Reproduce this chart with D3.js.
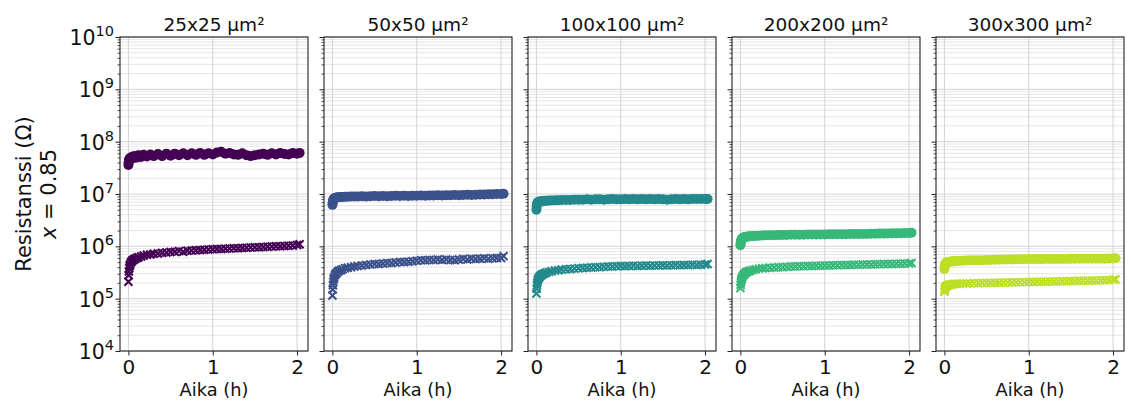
<!DOCTYPE html>
<html>
<head>
<meta charset="utf-8">
<script src="https://cdn.jsdelivr.net/npm/d3@7"></script>
<style>
  html, body { margin: 0; padding: 0; background: #fff; }
  svg { display: block; font-family: "DejaVu Sans", sans-serif; }
</style>
</head>
<body>
<svg id="chart" width="1131" height="403"></svg>
<script>
// Measurement time (hours), shared by every series
const hours = [0, 0.003, 0.006, 0.01, 0.015, 0.02, 0.03, 0.04, 0.05, 0.065,
  0.08, 0.1, 0.12, 0.15, 0.18, 0.22, 0.26, 0.3, 0.35, 0.4,
  0.45, 0.5, 0.55, 0.6, 0.65, 0.7, 0.75, 0.8, 0.85, 0.9,
  0.95, 1.0, 1.05, 1.1, 1.15, 1.2, 1.25, 1.3, 1.35, 1.4,
  1.45, 1.5, 1.55, 1.6, 1.65, 1.7, 1.75, 1.8, 1.85, 1.9,
  1.95, 2.0, 2.03];

// Resistance (Ω), upper (circle) and lower (cross) states per device size
const upper25 = [3.6e7, 4.0e7, 4.3e7, 4.6e7, 4.8e7, 4.6e7, 5.0e7, 4.8e7, 5.2e7, 4.9e7,
  5.3e7, 5.0e7, 5.5e7, 5.1e7, 5.6e7, 5.2e7, 5.7e7, 5.3e7, 5.8e7, 5.3e7,
  5.9e7, 5.4e7, 5.9e7, 5.5e7, 6.0e7, 5.5e7, 6.0e7, 5.6e7, 6.1e7, 5.6e7,
  6.0e7, 5.7e7, 6.2e7, 6.4e7, 5.9e7, 6.1e7, 5.7e7, 5.6e7, 6.0e7, 5.5e7,
  5.3e7, 5.5e7, 5.7e7, 5.9e7, 5.6e7, 6.0e7, 5.7e7, 6.1e7, 5.8e7, 5.7e7,
  6.1e7, 5.9e7, 6.1e7];
const lower25 = [2.1e5, 2.8e5, 3.3e5, 3.8e5, 4.2e5, 4.5e5, 4.9e5, 5.2e5, 5.4e5, 5.6e5,
  5.8e5, 6.0e5, 6.2e5, 6.4e5, 6.7e5, 6.9e5, 7.0e5, 7.2e5, 7.3e5, 7.5e5,
  7.6e5, 7.8e5, 7.9e5, 8.1e5, 7.9e5, 8.2e5, 8.3e5, 8.4e5, 8.5e5, 8.6e5,
  8.7e5, 8.8e5, 8.9e5, 8.9e5, 9.0e5, 9.1e5, 9.2e5, 9.2e5, 9.3e5, 9.4e5,
  9.5e5, 9.6e5, 9.6e5, 9.7e5, 9.8e5, 9.9e5, 1.0e6, 1.0e6, 1.01e6, 1.03e6,
  1.04e6, 1.06e6, 1.1e6];

const upper50 = [6.2e6, 6.8e6, 7.3e6, 7.7e6, 8.0e6, 8.2e6, 8.4e6, 8.5e6, 8.6e6, 8.7e6,
  8.7e6, 8.8e6, 8.8e6, 8.9e6, 8.9e6, 9.0e6, 9.0e6, 9.0e6, 9.1e6, 9.0e6,
  9.1e6, 9.2e6, 9.1e6, 9.2e6, 9.1e6, 9.2e6, 9.3e6, 9.2e6, 9.3e6, 9.2e6,
  9.3e6, 9.3e6, 9.4e6, 9.3e6, 9.4e6, 9.4e6, 9.5e6, 9.4e6, 9.5e6, 9.5e6,
  9.6e6, 9.5e6, 9.6e6, 9.7e6, 9.6e6, 9.7e6, 9.8e6, 9.8e6, 9.9e6, 9.9e6,
  1.0e7, 1.0e7, 1.01e7];
const lower50 = [1.15e5, 1.5e5, 1.8e5, 2.1e5, 2.35e5, 2.55e5, 2.8e5, 3.0e5, 3.1e5, 3.3e5,
  3.4e5, 3.5e5, 3.65e5, 3.8e5, 3.9e5, 4.0e5, 4.1e5, 4.2e5, 4.3e5, 4.4e5,
  4.5e5, 4.6e5, 4.6e5, 4.7e5, 4.8e5, 4.8e5, 4.9e5, 5.0e5, 5.0e5, 5.1e5,
  5.2e5, 5.3e5, 5.4e5, 5.4e5, 5.5e5, 5.5e5, 5.6e5, 5.5e5, 5.6e5, 5.5e5,
  5.4e5, 5.6e5, 5.7e5, 5.6e5, 5.8e5, 5.7e5, 5.8e5, 5.9e5, 5.8e5, 5.9e5,
  6.0e5, 6.0e5, 6.5e5];

const upper100 = [5.0e6, 5.8e6, 6.3e6, 6.7e6, 6.9e6, 7.0e6, 7.1e6, 7.2e6, 7.2e6, 7.3e6,
  7.3e6, 7.4e6, 7.4e6, 7.5e6, 7.5e6, 7.6e6, 7.6e6, 7.7e6, 7.7e6, 7.7e6,
  7.8e6, 7.8e6, 7.8e6, 7.9e6, 7.8e6, 7.9e6, 7.9e6, 7.8e6, 7.9e6, 8.0e6,
  7.9e6, 7.9e6, 8.0e6, 7.9e6, 8.0e6, 7.9e6, 8.0e6, 7.9e6, 8.0e6, 7.9e6,
  8.0e6, 7.9e6, 7.8e6, 7.9e6, 8.0e6, 7.9e6, 8.0e6, 7.9e6, 8.0e6, 8.0e6,
  8.0e6, 8.0e6, 8.0e6];
const lower100 = [1.25e5, 1.55e5, 1.8e5, 2.0e5, 2.2e5, 2.35e5, 2.5e5, 2.65e5, 2.75e5, 2.85e5,
  2.95e5, 3.05e5, 3.15e5, 3.25e5, 3.35e5, 3.45e5, 3.5e5, 3.6e5, 3.65e5, 3.7e5,
  3.75e5, 3.8e5, 3.85e5, 3.9e5, 3.95e5, 4.0e5, 4.0e5, 4.05e5, 4.1e5, 4.1e5,
  4.15e5, 4.2e5, 4.15e5, 4.2e5, 4.25e5, 4.2e5, 4.25e5, 4.3e5, 4.25e5, 4.3e5,
  4.3e5, 4.35e5, 4.3e5, 4.35e5, 4.4e5, 4.35e5, 4.4e5, 4.4e5, 4.45e5, 4.4e5,
  4.45e5, 4.5e5, 4.6e5];

const upper200 = [1.05e6, 1.15e6, 1.25e6, 1.32e6, 1.38e6, 1.42e6, 1.46e6, 1.48e6, 1.5e6, 1.52e6,
  1.53e6, 1.55e6, 1.56e6, 1.57e6, 1.58e6, 1.6e6, 1.61e6, 1.62e6, 1.63e6, 1.63e6,
  1.64e6, 1.65e6, 1.65e6, 1.66e6, 1.66e6, 1.67e6, 1.67e6, 1.68e6, 1.68e6, 1.68e6,
  1.69e6, 1.69e6, 1.7e6, 1.7e6, 1.7e6, 1.71e6, 1.71e6, 1.72e6, 1.72e6, 1.72e6,
  1.73e6, 1.73e6, 1.74e6, 1.74e6, 1.75e6, 1.75e6, 1.76e6, 1.77e6, 1.77e6, 1.78e6,
  1.79e6, 1.8e6, 1.82e6];
const lower200 = [1.6e5, 1.85e5, 2.05e5, 2.25e5, 2.4e5, 2.55e5, 2.75e5, 2.9e5, 3.0e5, 3.15e5,
  3.25e5, 3.35e5, 3.45e5, 3.55e5, 3.65e5, 3.75e5, 3.8e5, 3.85e5, 3.9e5, 3.95e5,
  4.0e5, 4.0e5, 4.05e5, 4.1e5, 4.1e5, 4.15e5, 4.15e5, 4.2e5, 4.2e5, 4.25e5,
  4.25e5, 4.3e5, 4.3e5, 4.35e5, 4.35e5, 4.4e5, 4.4e5, 4.4e5, 4.45e5, 4.45e5,
  4.5e5, 4.5e5, 4.5e5, 4.55e5, 4.55e5, 4.6e5, 4.6e5, 4.6e5, 4.65e5, 4.65e5,
  4.7e5, 4.7e5, 4.8e5];

const upper300 = [3.7e5, 4.1e5, 4.4e5, 4.6e5, 4.75e5, 4.85e5, 4.95e5, 5.0e5, 5.05e5, 5.1e5,
  5.15e5, 5.2e5, 5.2e5, 5.25e5, 5.3e5, 5.3e5, 5.35e5, 5.4e5, 5.4e5, 5.45e5,
  5.45e5, 5.5e5, 5.5e5, 5.55e5, 5.55e5, 5.6e5, 5.6e5, 5.6e5, 5.65e5, 5.65e5,
  5.65e5, 5.7e5, 5.7e5, 5.7e5, 5.7e5, 5.72e5, 5.72e5, 5.74e5, 5.74e5, 5.75e5,
  5.75e5, 5.76e5, 5.77e5, 5.78e5, 5.78e5, 5.79e5, 5.8e5, 5.8e5, 5.81e5, 5.82e5,
  5.83e5, 5.85e5, 5.9e5];
const lower300 = [1.35e5, 1.48e5, 1.57e5, 1.64e5, 1.69e5, 1.73e5, 1.77e5, 1.8e5, 1.83e5, 1.85e5,
  1.87e5, 1.9e5, 1.91e5, 1.92e5, 1.93e5, 1.94e5, 1.95e5, 1.96e5, 1.97e5, 1.98e5,
  1.99e5, 2.0e5, 2.0e5, 2.01e5, 2.02e5, 2.03e5, 2.04e5, 2.04e5, 2.05e5, 2.06e5,
  2.07e5, 2.08e5, 2.09e5, 2.1e5, 2.1e5, 2.11e5, 2.12e5, 2.13e5, 2.14e5, 2.15e5,
  2.16e5, 2.17e5, 2.18e5, 2.19e5, 2.2e5, 2.21e5, 2.22e5, 2.23e5, 2.24e5, 2.25e5,
  2.27e5, 2.29e5, 2.32e5];

const panelTitles = ["25x25 µm²", "50x50 µm²", "100x100 µm²", "200x200 µm²", "300x300 µm²"];
const upperSeries = [upper25, upper50, upper100, upper200, upper300];
const lowerSeries = [lower25, lower50, lower100, lower200, lower300];
const yTickExponents = [4, 5, 6, 7, 8, 9, 10];
const xTickValues = [0, 1, 2];
const xLabel = "Aika (h)";
const yLabelLines = ["Resistanssi (Ω)", "x = 0.85"];

// ---- layout & style ----
const colors = ["#440154", "#3b518b", "#22898d", "#36b878", "#bddf26"];
const panelLeft0 = 120, panelStep = 204, panelW = 188;
const panelTop = 37, panelBottom = 351;

const svg = d3.select("#chart");

const y = d3.scaleLog().domain([1e4, 1e10]).range([panelBottom, panelTop]);
const x = d3.scaleLinear().domain([-0.1, 2.13]).range([0, panelW]);

// minor decade positions 2..9 × 10^k
const minorVals = [];
for (let e = 4; e < 10; e++) for (let m = 2; m <= 9; m++) minorVals.push(m * Math.pow(10, e));
const majorVals = yTickExponents.map(e => Math.pow(10, e));

panelTitles.forEach((title, i) => {
  const g = svg.append("g").attr("transform", `translate(${panelLeft0 + i * panelStep},0)`);

  // grid
  g.append("g").selectAll("line.minor").data(minorVals).join("line")
    .attr("x1", 0).attr("x2", panelW)
    .attr("y1", d => y(d)).attr("y2", d => y(d))
    .attr("stroke", "#e6e6e6").attr("stroke-width", 1);
  g.append("g").selectAll("line.major").data(majorVals).join("line")
    .attr("x1", 0).attr("x2", panelW)
    .attr("y1", d => y(d)).attr("y2", d => y(d))
    .attr("stroke", "#d4d4d4").attr("stroke-width", 1);
  g.append("g").selectAll("line.vgrid").data(xTickValues).join("line")
    .attr("x1", d => x(d)).attr("x2", d => x(d))
    .attr("y1", panelTop).attr("y2", panelBottom)
    .attr("stroke", "#d4d4d4").attr("stroke-width", 1);

  const col = colors[i];

  // upper state: filled circles
  g.append("g").selectAll("circle").data(hours).join("circle")
    .attr("cx", d => x(d))
    .attr("cy", (d, k) => y(upperSeries[i][k]))
    .attr("r", 5)
    .attr("fill", col);

  // lower state: crosses
  const s = 4;
  g.append("g").selectAll("path").data(hours).join("path")
    .attr("transform", (d, k) => `translate(${x(d)},${y(lowerSeries[i][k])})`)
    .attr("d", `M${-s},${-s}L${s},${s}M${-s},${s}L${s},${-s}`)
    .attr("stroke", col).attr("stroke-width", 2.1).attr("fill", "none");

  // y axis ticks (labels on first panel only)
  const yAxis = d3.axisLeft(y).tickValues(majorVals).tickSize(4.5).tickFormat("");
  const yg = g.append("g").call(yAxis);
  yg.select(".domain").remove();
  yg.selectAll("line").attr("stroke", "#222").attr("stroke-width", 1);
  const yMinor = d3.axisLeft(y).tickValues(minorVals).tickSize(2.5).tickFormat("");
  const ymg = g.append("g").call(yMinor);
  ymg.select(".domain").remove();
  ymg.selectAll("line").attr("stroke", "#222").attr("stroke-width", 0.8);

  if (i === 0) {
    yTickExponents.forEach(e => {
      const t = g.append("text")
        .attr("x", -6).attr("y", y(Math.pow(10, e)) + 8)
        .attr("text-anchor", "end")
        .attr("font-size", 20.5).attr("fill", "#111");
      t.append("tspan").text("10");
      t.append("tspan").attr("dy", -9).attr("font-size", 14.5).text(e);
    });
  }

  // x axis
  const xAxis = d3.axisBottom(x).tickValues(xTickValues).tickSize(4.5).tickPadding(4).tickFormat(d3.format("d"));
  const xg = g.append("g").attr("transform", `translate(0,${panelBottom})`).call(xAxis);
  xg.select(".domain").remove();
  xg.selectAll("line").attr("stroke", "#222").attr("stroke-width", 1);
  xg.selectAll("text").attr("font-size", 20).attr("fill", "#111")
    .attr("font-family", "DejaVu Sans, sans-serif");

  // frame
  g.append("rect").attr("x", 0).attr("y", panelTop)
    .attr("width", panelW).attr("height", panelBottom - panelTop)
    .attr("fill", "none").attr("stroke", "#222").attr("stroke-width", 1.1);

  // title
  g.append("text").attr("x", panelW / 2).attr("y", 30.5)
    .attr("text-anchor", "middle").attr("font-size", 18.5).attr("fill", "#111")
    .text(title);

  // x label
  g.append("text").attr("x", panelW / 2).attr("y", 395.5)
    .attr("text-anchor", "middle").attr("font-size", 17.8).attr("fill", "#111")
    .text(xLabel);
});

// y label (two lines, rotated)
const yl = svg.append("text")
  .attr("transform", `translate(0,${(panelTop + panelBottom) / 2 + 0}) rotate(-90)`)
  .attr("text-anchor", "middle").attr("font-size", 21).attr("fill", "#111");
yl.append("tspan").attr("x", 0).attr("y", 31).text(yLabelLines[0]);
const l2 = yl.append("tspan").attr("x", 0).attr("y", 56);
l2.append("tspan").attr("font-style", "italic").text("x");
l2.append("tspan").text(yLabelLines[1].slice(1));
</script>
</body>
</html>
